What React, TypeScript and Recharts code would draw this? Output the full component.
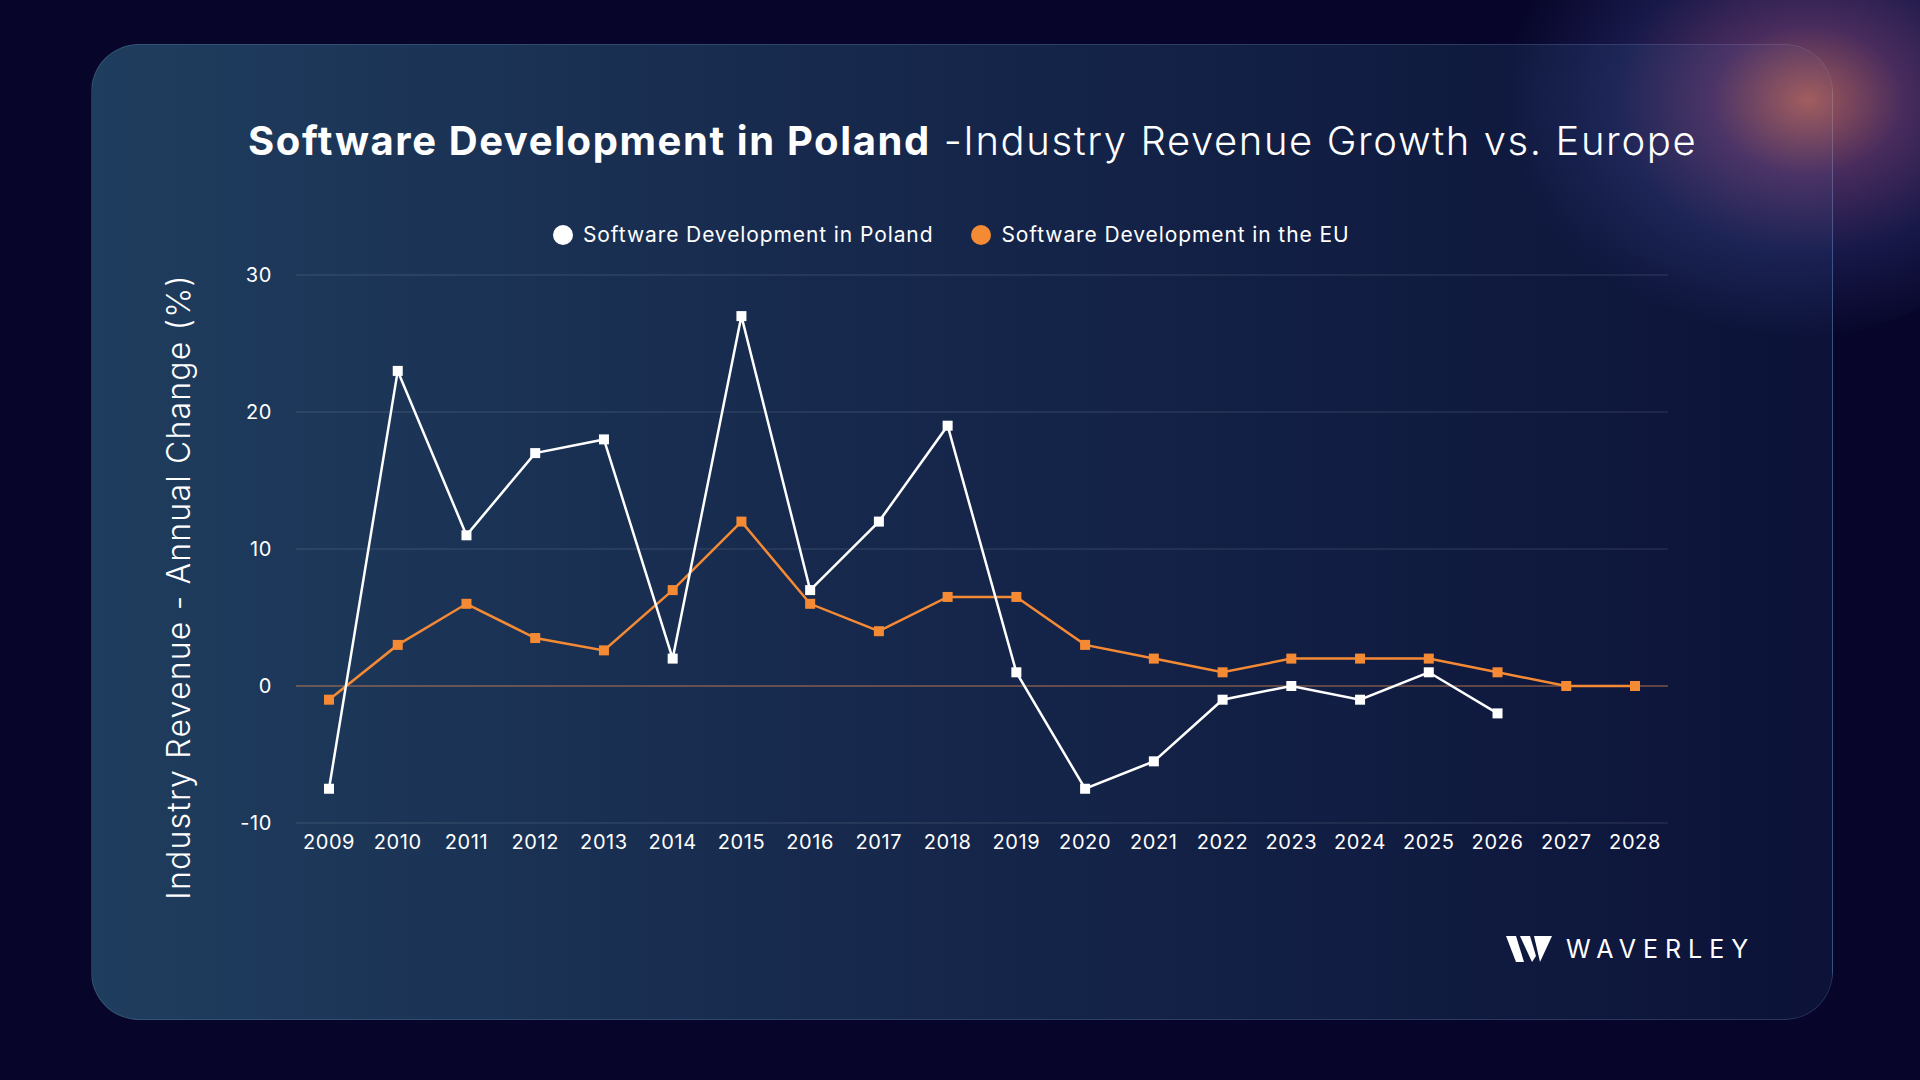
import React from 'react';
import { LineChart, Line, XAxis, YAxis, CartesianGrid, ReferenceLine } from 'recharts';

const years = [2009, 2010, 2011, 2012, 2013, 2014, 2015, 2016, 2017, 2018, 2019, 2020, 2021, 2022, 2023, 2024, 2025, 2026, 2027, 2028];
const poland = [-7.5, 23, 11, 17, 18, 2, 27, 7, 12, 19, 1, -7.5, -5.5, -1, 0, -1, 1, -2, null, null];
const eu = [-1, 3, 6, 3.5, 2.6, 7, 12, 6, 4, 6.5, 6.5, 3, 2, 1, 2, 2, 2, 1, 0, 0];
const yTicks = [-10, 0, 10, 20, 30];

const data = years.map((year, i) => ({ year, poland: poland[i], eu: eu[i] }));

const FONT = 'Inter, "Open Sans", sans-serif';

function squareDot(color: string) {
  return (props: any) => {
    const { cx, cy, value, index } = props;
    if (value == null || cx == null || cy == null) return <g key={index} />;
    return <rect key={index} x={cx - 5} y={cy - 5} width={10} height={10} fill={color} />;
  };
}

export default function App() {
  return (
    <div style={{ position: 'fixed', left: 0, top: 0, width: 1920, height: 1080, background: '#07062a', overflow: 'hidden', fontFamily: FONT }}>
      <div style={{ position: 'absolute', left: 0, top: 44, width: 1833, height: 976, borderRadius: 48, overflow: 'hidden' }}>
        <div style={{ position: 'absolute', left: 91, top: 0, width: 1742, height: 976, borderRadius: 48,
          background: 'linear-gradient(90deg, #1f3d5e 0%, #16284c 45%, #0c1238 100%)', border: '1px solid rgba(120,150,200,0.25)', boxSizing: 'border-box' }} />
      </div>
      <div style={{ position: 'absolute', left: 1500, top: -140, width: 560, height: 480, borderRadius: '50%',
        background: 'radial-gradient(ellipse at 55% 50%, rgba(225,125,110,0.7) 0%, rgba(170,100,170,0.4) 22%, rgba(80,90,180,0.22) 45%, rgba(20,20,70,0) 70%)' }} />
      <div style={{ position: 'absolute', left: 248, top: 116, color: '#fff', fontSize: 40, whiteSpace: 'nowrap', letterSpacing: 1.6 }}>
        <span style={{ fontWeight: 700 }}>Software Development in Poland</span>
        <span style={{ fontWeight: 300 }}> -Industry Revenue Growth vs. Europe</span>
      </div>
      <div style={{ position: 'absolute', left: 553, top: 222, display: 'flex', gap: 38, color: '#fff', fontSize: 21, letterSpacing: 0.9, whiteSpace: 'nowrap' }}>
        <span style={{ display: 'flex', alignItems: 'center', gap: 10 }}>
          <span style={{ width: 20, height: 20, borderRadius: 10, background: '#fff' }} />Software Development in Poland
        </span>
        <span style={{ display: 'flex', alignItems: 'center', gap: 10 }}>
          <span style={{ width: 20, height: 20, borderRadius: 10, background: '#f58a35' }} />Software Development in the EU
        </span>
      </div>
      <div style={{ position: 'absolute', left: 178, top: 587, transform: 'translate(-50%,-50%) rotate(-90deg)', color: '#fff', fontSize: 32, fontWeight: 300, whiteSpace: 'nowrap', letterSpacing: 1.2 }}>
        Industry Revenue - Annual Change (%)
      </div>
      <div style={{ position: 'absolute', left: 0, top: 0 }}>
        <LineChart width={1920} height={1080} data={data} margin={{ top: 275, right: 252, left: 236, bottom: 227 }}>
          <CartesianGrid vertical={false} stroke="rgba(255,255,255,0.14)" />
          <XAxis dataKey="year" type="number" domain={[2009, 2028]} ticks={years} interval={0} padding={{ left: 33, right: 33 }}
            axisLine={false} tickLine={false} height={30} tickMargin={6} tick={{ fill: '#fff', fontSize: 20, fontFamily: FONT, letterSpacing: 0.6 }} />
          <YAxis domain={[-10, 30]} ticks={yTicks} width={60} axisLine={false} tickLine={false} tickMargin={18}
            tick={{ fill: '#fff', fontSize: 20, fontFamily: FONT, letterSpacing: 0.6 }} />
          <ReferenceLine y={0} stroke="rgba(245,138,53,0.6)" />
          <Line dataKey="eu" stroke="#f58a35" strokeWidth={2.5} dot={squareDot('#f58a35')} isAnimationActive={false} />
          <Line dataKey="poland" stroke="#ffffff" strokeWidth={2.5} dot={squareDot('#ffffff')} connectNulls={false} isAnimationActive={false} />
        </LineChart>
      </div>
      <div style={{ position: 'absolute', left: 1506, top: 934, display: 'flex', alignItems: 'center', gap: 14 }}>
        <svg width={46} height={30} viewBox="0 0 46 30">
          <polygon points="0,2 10,2 18,28 10,28" fill="#fff" />
          <polygon points="14,2 24,2 30,22 26,28" fill="#fff" />
          <polygon points="28,2 46,2 34,28" fill="#fff" />
        </svg>
        <span style={{ color: '#fff', fontSize: 25, letterSpacing: 7, fontWeight: 400 }}>WAVERLEY</span>
      </div>
    </div>
  );
}
